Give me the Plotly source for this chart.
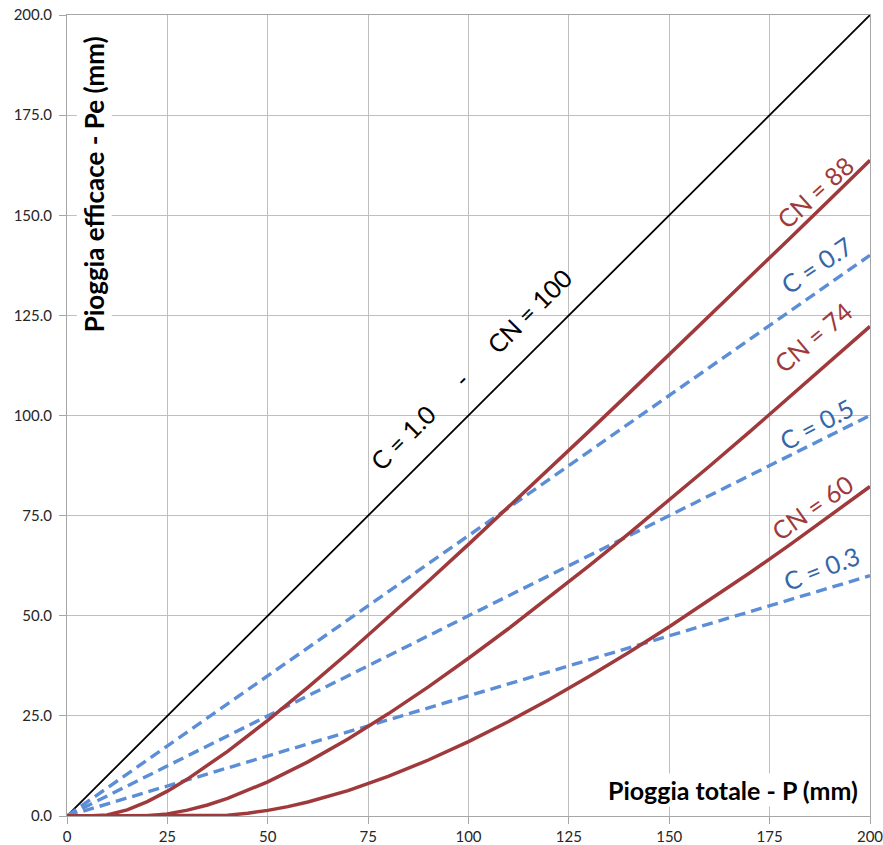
import plotly.graph_objects as go

# Data
P_cn88 = [0, 5, 10, 15, 20, 25, 30, 40, 50, 60, 70, 80, 90, 100, 110, 120, 130, 140, 150, 160, 170, 180, 190, 200]
Pe_cn88 = [0, 0, 0.25, 1.53, 3.58, 6.20, 9.22, 16.15, 23.87, 32.11, 40.71, 49.58, 58.63, 67.83, 77.15, 86.56,
           96.04, 105.59, 115.19, 124.83, 134.50, 144.21, 153.95, 163.71]
P_cn74 = [0, 10, 15, 20, 25, 30, 35, 40, 50, 60, 70, 80, 90, 100, 110, 120, 130, 140, 150, 160, 170, 180, 190, 200]
Pe_cn74 = [0, 0, 0, 0.05, 0.53, 1.46, 2.76, 4.40, 8.52, 13.52, 19.23, 25.51, 32.25, 39.38, 46.81, 54.52,
           62.45, 70.58, 78.88, 87.33, 95.90, 104.59, 113.38, 122.25]
P_cn60 = [0, 10, 20, 30, 35, 40, 45, 50, 55, 60, 70, 80, 90, 100, 110, 120, 130, 140, 150, 160, 170, 180, 190, 200]
Pe_cn60 = [0, 0, 0, 0, 0.01, 0.21, 0.69, 1.40, 2.34, 3.49, 6.35, 9.88, 13.98, 18.57, 23.61, 29.04,
           34.81, 40.89, 47.25, 53.85, 60.67, 67.69, 74.90, 82.27]
P_c = [0, 25, 50, 75, 100, 125, 150, 175, 200]
Pe_c07 = [0, 17.5, 35, 52.5, 70, 87.5, 105, 122.5, 140]
Pe_c05 = [0, 12.5, 25, 37.5, 50, 62.5, 75, 87.5, 100]
Pe_c03 = [0, 7.5, 15, 22.5, 30, 37.5, 45, 52.5, 60]
P_c10 = [0, 200]
Pe_c10 = [0, 200]

x_ticks = [0, 25, 50, 75, 100, 125, 150, 175, 200]
y_ticks = [0, 25, 50, 75, 100, 125, 150, 175, 200]

RED = "#A0393B"
BLUE = "#5B8ED6"
BLUE_TXT = "#3466A8"
FONT = "Lato"

fig = go.Figure()
fig.add_trace(go.Scatter(x=P_c10, y=Pe_c10, mode="lines", line=dict(color="black", width=1.8)))
for y in (Pe_c07, Pe_c05, Pe_c03):
    fig.add_trace(go.Scatter(x=P_c, y=y, mode="lines", line=dict(color=BLUE, width=3.4, dash="11px,6px")))
for x, y in ((P_cn88, Pe_cn88), (P_cn74, Pe_cn74), (P_cn60, Pe_cn60)):
    fig.add_trace(go.Scatter(x=x, y=y, mode="lines", line=dict(color=RED, width=3.5)))

sp = "\u00a0" * 6
labels = [
    ("C = 1.0" + sp + "-" + sp + "CN = 100", 100.6, 111.6, -45, "black"),
    ("CN = 88", 186.3, 155.8, -42, RED),
    ("C = 0.7", 186.6, 137.6, -34, BLUE_TXT),
    ("CN = 74", 185.8, 119.6, -40, RED),
    ("C = 0.5", 186.6, 97.9, -28, BLUE_TXT),
    ("CN = 60", 185.6, 77.2, -35, RED),
    ("C = 0.3", 188.0, 61.9, -21, BLUE_TXT),
]
for t, x, y, a, c in labels:
    fig.add_annotation(x=x, y=y, text=t, textangle=a, showarrow=False,
                       xanchor="center", yanchor="middle",
                       font=dict(family=FONT, size=25, color=c))

fig.add_annotation(x=0.034, xref="paper", y=0.789, yref="paper", text="<b>Pioggia efficace - Pe (mm)</b>",
                   textangle=-90, showarrow=False, bgcolor="white", xanchor="center", yanchor="middle",
                   font=dict(family=FONT, size=26, color="black"))
fig.add_annotation(x=0.83, xref="paper", y=0.032, yref="paper", text="<b>Pioggia totale - P (mm)</b>",
                   showarrow=False, bgcolor="white", xanchor="center", yanchor="middle",
                   font=dict(family=FONT, size=25, color="black"))

axis_common = dict(showgrid=True, gridcolor="#BFBFBF", gridwidth=1, zeroline=False,
                   showline=True, linecolor="#A6A6A6", linewidth=1, mirror=True,
                   ticks="outside", ticklen=7, tickcolor="#A6A6A6", automargin=False,
                   ticklabeloverflow="allow",
                   tickfont=dict(family=FONT, size=15, color="#262626"))
fig.update_xaxes(range=[0, 200], tickvals=x_ticks, ticktext=[str(v) for v in x_ticks], **axis_common)
fig.update_yaxes(range=[0, 200], tickvals=y_ticks, ticktext=[f"{v:.1f}" for v in y_ticks],
                 ticklabelstandoff=4, **axis_common)

fig.update_layout(width=883, height=845, showlegend=False,
                  margin=dict(l=67, r=13, t=15, b=29),
                  plot_bgcolor="white", paper_bgcolor="white")

fig.write_html("out.html", config={"displayModeBar": False},
               post_script="document.body.style.margin='0';document.body.style.overflow='hidden';")
